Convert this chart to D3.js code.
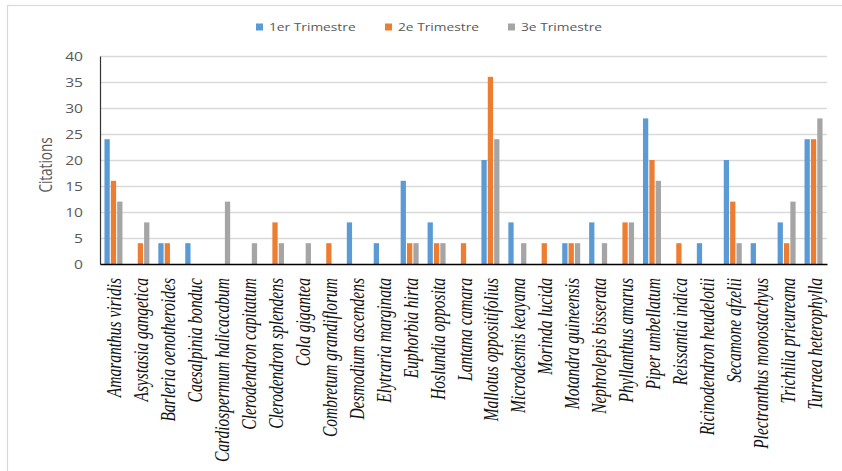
<!DOCTYPE html>
<html>
<head>
<meta charset="utf-8">
<script src="https://cdn.jsdelivr.net/npm/d3@7/dist/d3.min.js"></script>
<style>
  html, body { margin: 0; padding: 0; background: #fff; }
  svg { display: block; }
</style>
</head>
<body>
<svg id="chart" width="842" height="471"></svg>
<script>
// Species cited per quarter
const species = [
  "Amaranthus viridis", "Asystasia gangetica", "Barleria oenotheroides", "Caesalpinia bonduc",
  "Cardiospermum halicacabum", "Clerodendron capitatum", "Clerodendron splendens", "Cola gigantea",
  "Combretum grandiflorum", "Desmodium ascendens", "Elytraria marginata", "Euphorbia hirta",
  "Hoslundia opposita", "Lantana camara", "Mallotus oppositifolius", "Microdesmis keayana",
  "Morinda lucida", "Motandra guineensis", "Nephrolepis bisserata", "Phyllanthus amarus",
  "Piper umbellatum", "Reissantia indica", "Ricinodendron heudelotii", "Secamone afzelii",
  "Plectranthus monostachyus", "Trichilia prieureana", "Turraea heterophylla"
];
const seriesNames = ["1er Trimestre", "2e Trimestre", "3e Trimestre"];
const trimestre1 = [24, 0, 4, 4, 0, 0, 0, 0, 0, 8, 4, 16, 8, 0, 20, 8, 0, 4, 8, 0, 28, 0, 4, 20, 4, 8, 24];
const trimestre2 = [16, 4, 4, 0, 0, 0, 8, 0, 4, 0, 0, 4, 4, 4, 36, 0, 4, 4, 0, 8, 20, 4, 0, 12, 0, 4, 24];
const trimestre3 = [12, 8, 0, 0, 12, 4, 4, 4, 0, 0, 0, 4, 4, 0, 24, 4, 0, 4, 4, 8, 16, 0, 0, 4, 0, 12, 28];
const yTicks = [0, 5, 10, 15, 20, 25, 30, 35, 40];
const colors = ["#5B9BD5", "#ED7D31", "#A5A5A5"];

const seriesValues = [trimestre1, trimestre2, trimestre3];
const rows = species.map((s, i) => ({ name: s, values: seriesValues.map(v => v[i]) }));

const svg = d3.select("#chart");
const SX = 1.3; // horizontal stretch of the text glyphs

// chart frame
svg.append("rect")
  .attr("x", 7.5).attr("y", 5.5).attr("width", 900).attr("height", 600)
  .attr("fill", "#fff").attr("stroke", "#d9d9d9").attr("stroke-width", 1.2);

const plot = { left: 100, right: 827, top: 56, bottom: 264 };

const x0 = d3.scaleBand().domain(species).range([plot.left, plot.right]).padding(0);
const y = d3.scaleLinear().domain([0, 40]).range([plot.bottom, plot.top]);
const x1 = d3.scaleBand().domain(seriesNames)
  .range([x0.bandwidth() / 2 - 9, x0.bandwidth() / 2 + 9]).paddingInner(0.17);

// gridlines
svg.append("g")
  .selectAll("line").data(yTicks.filter(t => t > 0)).join("line")
  .attr("x1", plot.left).attr("x2", plot.right)
  .attr("y1", d => Math.round(y(d)) + 0.5).attr("y2", d => Math.round(y(d)) + 0.5)
  .attr("stroke", "#d9d9d9").attr("stroke-width", 1.5);

// bars
const groups = svg.append("g").selectAll("g").data(rows).join("g")
  .attr("transform", d => `translate(${x0(d.name)},0)`);
groups.selectAll("rect")
  .data(d => d.values.map((v, k) => ({ key: seriesNames[k], v, k })))
  .join("rect")
  .attr("x", d => x1(d.key))
  .attr("width", x1.bandwidth())
  .attr("y", d => y(d.v))
  .attr("height", d => y(0) - y(d.v))
  .attr("fill", d => colors[d.k]);

// y axis
const yAxis = svg.append("g").attr("transform", `translate(${plot.left},0)`)
  .call(d3.axisLeft(y).tickValues(yTicks).tickSize(0).tickPadding(0));
yAxis.select(".domain").attr("stroke", "#333").attr("stroke-width", 1.2);
yAxis.selectAll(".tick text")
  .attr("font-family", "'Open Sans', sans-serif").attr("font-size", 12).attr("fill", "#595959")
  .attr("x", 0).attr("dy", null).attr("text-anchor", "end").attr("dominant-baseline", "central")
  .attr("transform", `translate(-17,0) scale(${SX},1)`);

// x axis
const xAxis = svg.append("g").attr("transform", `translate(0,${plot.bottom})`)
  .call(d3.axisBottom(x0).tickSize(0).tickPadding(0));
xAxis.select(".domain").attr("stroke", "#000").attr("stroke-width", 1.5);
xAxis.selectAll(".tick text")
  .attr("font-family", "'Liberation Serif', serif").attr("font-style", "italic")
  .attr("font-size", 15.5).attr("fill", "#111")
  .attr("x", 0).attr("y", 0).attr("dy", null)
  .attr("text-anchor", "end")
  .attr("transform", `translate(8,14) scale(${SX},1) rotate(-90)`);

// y title
svg.append("text")
  .attr("transform", `translate(52,165) scale(${SX},1) rotate(-90)`)
  .attr("text-anchor", "middle")
  .attr("font-family", "'Open Sans', sans-serif").attr("font-size", 13.5).attr("fill", "#595959")
  .text("Citations");

// legend
const legendX = [256, 385, 508];
const legend = svg.append("g").selectAll("g").data(seriesNames).join("g")
  .attr("transform", (d, i) => `translate(${legendX[i]},27)`);
legend.append("rect").attr("x", 0).attr("y", -3.5).attr("width", 7).attr("height", 7)
  .attr("fill", (d, i) => colors[i]);
legend.append("text")
  .attr("transform", `translate(13,0) scale(1.25,1)`)
  .attr("dominant-baseline", "central")
  .attr("font-family", "'Open Sans', sans-serif").attr("font-size", 11).attr("fill", "#595959")
  .text(d => d);
</script>
</body>
</html>
